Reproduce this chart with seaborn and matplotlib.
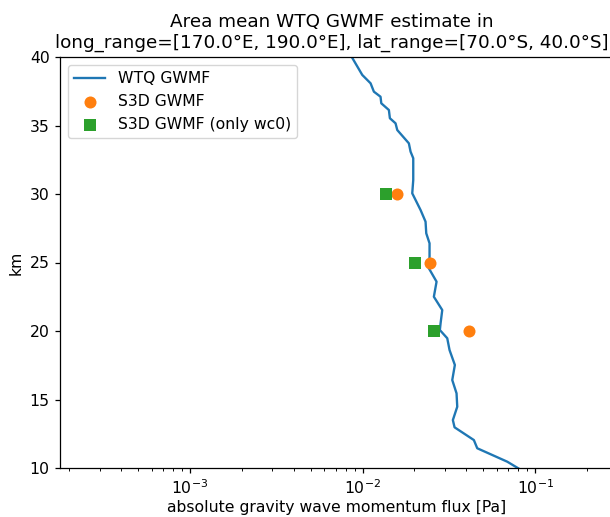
import matplotlib
matplotlib.use("Agg")
import matplotlib.pyplot as plt
import seaborn as sns
import pandas as pd

# WTQ area-mean profile: altitude [km] and absolute GW momentum flux [Pa]
wtq_km = [40.15, 38.69, 38.08, 37.47, 37.10, 36.62, 36.13, 35.53, 35.16, 34.67,
          33.70, 33.09, 32.61, 31.02, 30.05, 28.83, 27.98, 27.13, 26.40, 25.42,
          24.58, 23.60, 22.50, 21.53, 20.56, 20.07, 19.47, 18.61, 17.52, 16.42,
          15.45, 14.47, 13.50, 12.97, 12.04, 11.44, 10.46, 9.98]
wtq_flux = [0.00852, 0.00996, 0.01113, 0.01163, 0.01271, 0.01284, 0.01421, 0.01440,
            0.01553, 0.01589, 0.01855, 0.01898, 0.01967, 0.01967, 0.01941, 0.02169,
            0.02318, 0.02340, 0.02445, 0.02445, 0.02422, 0.02685, 0.02590, 0.02897,
            0.02833, 0.02806, 0.03097, 0.03193, 0.03428, 0.03311, 0.03506, 0.03539,
            0.03338, 0.03414, 0.04418, 0.04622, 0.06900, 0.07987]

# S3D estimates at selected altitudes
s3d_km = [30, 25, 20]
s3d_flux = [0.01574, 0.02455, 0.04131]
s3d_wc0_flux = [0.01360, 0.02001, 0.02604]

wtq = pd.DataFrame({"km": wtq_km, "flux": wtq_flux})
s3d = pd.DataFrame({"km": s3d_km, "flux": s3d_flux, "flux_wc0": s3d_wc0_flux})

k = 1.125
plt.rcParams.update({
    "font.size": 10 * k,
    "axes.linewidth": 0.8 * k,
    "xtick.major.size": 3.5 * k, "ytick.major.size": 3.5 * k,
    "xtick.minor.size": 2.0 * k,
    "xtick.major.width": 0.8 * k, "ytick.major.width": 0.8 * k,
    "xtick.minor.width": 0.6 * k,
})

fig = plt.figure(figsize=(6.10, 5.17), dpi=100)
W, H = 610, 517
ax = fig.add_axes([60 / W, 49 / H, 553 / W, 411 / H])

sns.lineplot(data=wtq, x="flux", y="km", orient="y", sort=False, estimator=None,
             color="#1f77b4", linewidth=1.5 * k, label="WTQ GWMF", ax=ax)
sns.scatterplot(data=s3d, x="flux", y="km", marker="o", s=75, color="#ff7f0e",
                linewidth=0, label="S3D GWMF", ax=ax, zorder=3)
sns.scatterplot(data=s3d, x="flux_wc0", y="km", marker="s", s=65, color="#2ca02c",
                linewidth=0, label="S3D GWMF (only wc0)", ax=ax, zorder=3)

ax.set_xscale("log")
ax.set_xlim(1.762e-4, 0.283)
ax.set_ylim(10, 40)
ax.set_yticks([10, 15, 20, 25, 30, 35, 40])
ax.set_xlabel("absolute gravity wave momentum flux [Pa]", labelpad=2)
ax.set_ylabel("km")
ax.set_title("Area mean WTQ GWMF estimate in\n"
             "long_range=[170.0°E, 190.0°E], lat_range=[70.0°S, 40.0°S]",
             fontsize=13.25, pad=6.5, x=(332 - 60) / 553)
ax.legend(loc="upper left")

fig.savefig("out.png", dpi=100)
